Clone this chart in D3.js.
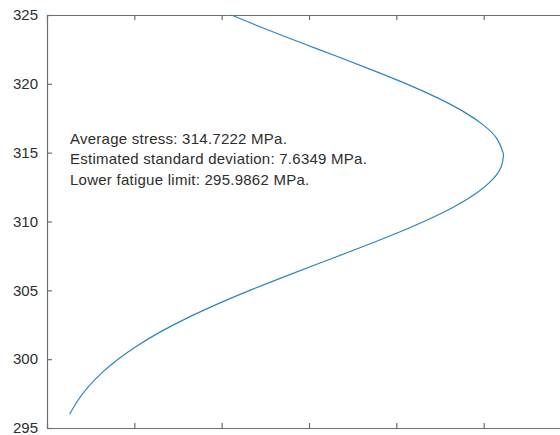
<!DOCTYPE html>
<html>
<head>
<meta charset="utf-8">
<script src="https://cdn.jsdelivr.net/npm/d3@7"></script>
<style>
  body { margin: 0; background: #fff; }
  svg { display: block; font-family: "Liberation Sans", Arial, sans-serif; }
</style>
</head>
<body>
<svg id="chart"></svg>
<script>
// stress (MPa) on the vertical axis, probability density on the horizontal one
var stress = [296, 297, 298, 299, 300, 301, 302, 303, 304, 305, 306, 307, 308, 309, 310,
  311, 312, 313, 314, 314.7222, 315, 316, 317, 318, 319, 320, 321, 322, 323, 324, 325];
var density = [0.00259, 0.00353, 0.00475, 0.00627, 0.00814, 0.01039, 0.01304, 0.01608,
  0.01949, 0.02323, 0.02721, 0.03133, 0.03546, 0.03946, 0.04316, 0.04640, 0.04903,
  0.05094, 0.05202, 0.05225, 0.05222, 0.05153, 0.04998, 0.04765, 0.04466, 0.04115,
  0.03726, 0.03318, 0.02903, 0.02497, 0.02112];

var yTicks = [295, 300, 305, 310, 315, 320, 325];
var xTicks = [0, 0.01, 0.02, 0.03, 0.04, 0.05, 0.06];
var notes = [
  "Average stress: 314.7222 MPa.",
  "Estimated standard deviation: 7.6349 MPa.",
  "Lower fatigue limit: 295.9862 MPa."
];

var svgWidth = 560, svgHeight = 435;
var margin = { left: 47, top: 15, bottom: 428, right: 571 };

var svg = d3.select("#chart")
  .attr("width", svgWidth)
  .attr("height", svgHeight);

var x = d3.scaleLinear().domain([0, 0.06]).range([margin.left, margin.right]);
var y = d3.scaleLinear().domain([295, 325]).range([margin.bottom, margin.top]);

var axisColor = "#6e6e6e";
var tickLen = 5;

// bottom axis; its labels sit below the window, so only the ticks show
var gb = svg.append("g")
  .attr("transform", "translate(0," + margin.bottom + ")")
  .call(d3.axisBottom(x).tickValues(xTicks).tickSizeInner(-tickLen).tickSizeOuter(0)
    .tickFormat(""));
// top axis, no labels
var gt = svg.append("g")
  .attr("transform", "translate(0," + margin.top + ")")
  .call(d3.axisTop(x).tickValues(xTicks).tickSizeInner(-tickLen).tickSizeOuter(0)
    .tickFormat(""));
// left axis
var gl = svg.append("g")
  .attr("transform", "translate(" + margin.left + ",0)")
  .call(d3.axisLeft(y).tickValues(yTicks).tickSizeInner(-tickLen).tickSizeOuter(0)
    .tickPadding(tickLen + 4));

[gb, gt, gl].forEach(function (g) {
  g.select(".domain").attr("stroke", axisColor).attr("stroke-width", 1.2);
  g.selectAll(".tick line").attr("stroke", axisColor).attr("stroke-width", 1.2);
  g.selectAll(".tick text")
    .attr("fill", "#2e2e2e")
    .style("font-size", "15px")
    .style("font-family", "Liberation Sans, Arial, sans-serif");
});

var line = d3.line()
  .x(function (d, i) { return x(density[i]) })
  .y(function (d) { return y(d) })
  .curve(d3.curveNatural);

svg.append("path")
  .datum(stress)
  .attr("fill", "none")
  .attr("stroke", "#2a84c0")
  .attr("stroke-width", 1.2)
  .attr("d", line);

svg.append("g")
  .selectAll("text")
  .data(notes)
  .enter().append("text")
  .attr("x", 70)
  .attr("y", function (d, i) { return 143.5 + i * 20.5 })
  .attr("fill", "#2e2e2e")
  .style("font-size", "15px")
  .style("letter-spacing", "0.25px")
  .text(function (d) { return d });
</script>
</body>
</html>
